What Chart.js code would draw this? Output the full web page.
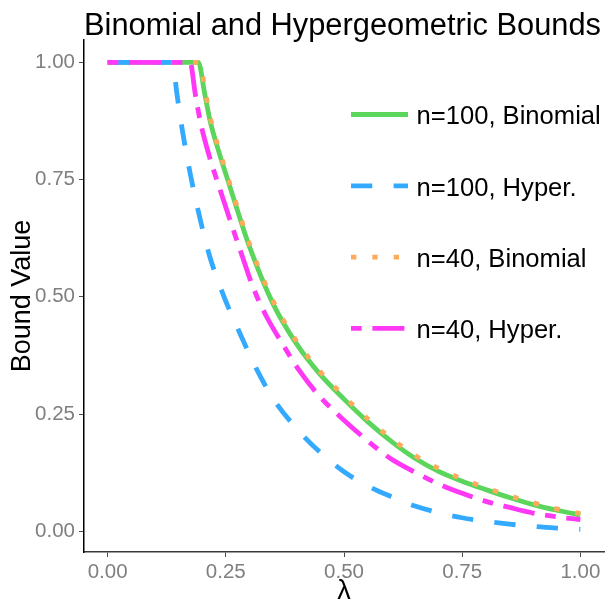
<!DOCTYPE html>
<html>
<head>
<meta charset="utf-8">
<title>Binomial and Hypergeometric Bounds</title>
<script src="https://cdn.jsdelivr.net/npm/chart.js@4.4.1/dist/chart.umd.min.js"></script>
<style>
  html, body { margin: 0; padding: 0; background: #ffffff; }
  #wrap { width: 606px; height: 600px; }
</style>
</head>
<body>
<div id="wrap"><canvas id="boundsChart" width="606" height="600"></canvas></div>
<script>
// Values
const xTickValues = [0, 0.25, 0.5, 0.75, 1];
const yTickValues = [0, 0.25, 0.5, 0.75, 1];

const seriesLabels = ['n=100, Binomial', 'n=100, Hyper.', 'n=40, Binomial', 'n=40, Hyper.'];

// n=100, Binomial
const lambdaBinom100 = [0, 0.192, 0.205, 0.217, 0.235, 0.25, 0.275, 0.3, 0.35, 0.4, 0.45, 0.5, 0.55, 0.6, 0.65, 0.7, 0.75, 0.8, 0.85, 0.9, 0.95, 1.0];
const boundBinom100  = [1, 1, 0.935, 0.874, 0.81, 0.762, 0.683, 0.607, 0.485, 0.399, 0.334, 0.282, 0.234, 0.192, 0.156, 0.128, 0.107, 0.089, 0.072, 0.057, 0.045, 0.035];

// n=100, Hyper.
const lambdaHyper100 = [0, 0.138, 0.146, 0.159, 0.175, 0.194, 0.216, 0.245, 0.283, 0.314, 0.35, 0.4, 0.45, 0.5, 0.55, 0.6, 0.65, 0.7, 0.75, 0.8, 0.85, 0.9, 0.95, 1.0];
const boundHyper100  = [1, 1, 0.937, 0.849, 0.761, 0.673, 0.586, 0.503, 0.415, 0.348, 0.283, 0.219, 0.168, 0.127, 0.097, 0.074, 0.054, 0.040, 0.029, 0.0215, 0.0155, 0.0105, 0.007, 0.0045];

// n=40, Binomial
const lambdaBinom40 = [0, 0.194, 0.207, 0.219, 0.235, 0.25, 0.275, 0.3, 0.35, 0.4, 0.45, 0.5, 0.55, 0.6, 0.65, 0.7, 0.75, 0.8, 0.85, 0.9, 0.95, 1.0];
const boundBinom40  = [1, 1, 0.935, 0.874, 0.816, 0.768, 0.689, 0.613, 0.491, 0.405, 0.340, 0.288, 0.240, 0.198, 0.162, 0.134, 0.112, 0.093, 0.076, 0.061, 0.048, 0.038];

// n=40, Hyper.
const lambdaHyper40 = [0, 0.1745, 0.185, 0.196, 0.215, 0.237, 0.26, 0.283, 0.307, 0.336, 0.371, 0.406, 0.45, 0.5, 0.55, 0.6, 0.65, 0.7, 0.75, 0.8, 0.85, 0.9, 0.95, 1.0];
const boundHyper40  = [1, 1, 0.935, 0.874, 0.80, 0.731, 0.660, 0.592, 0.522, 0.458, 0.398, 0.342, 0.286, 0.237, 0.193, 0.154, 0.126, 0.101, 0.081, 0.064, 0.051, 0.039, 0.031, 0.025];

const FONT = '"Liberation Sans", Arial, Helvetica, sans-serif';

function toPoints(xs, ys) {
  return xs.map((x, i) => ({ x: x, y: ys[i] }));
}

function makeLine(label, xs, ys, color, dash, order) {
  return {
    label: label,
    data: toPoints(xs, ys),
    borderColor: color,
    backgroundColor: color,
    borderWidth: 4.8,
    borderDash: dash,
    borderCapStyle: 'butt',
    borderJoinStyle: 'round',
    pointRadius: 0,
    pointHoverRadius: 0,
    fill: false,
    cubicInterpolationMode: 'monotone',
    order: order
  };
}

// Title and legend sit inside / above the panel like in the original plot
const plotText = {
  id: 'plotText',
  afterDraw(chart) {
    const ctx = chart.ctx;
    ctx.save();

    ctx.fillStyle = '#000000';
    ctx.font = '30.8px ' + FONT;
    ctx.textAlign = 'left';
    ctx.textBaseline = 'alphabetic';
    ctx.fillText('Binomial and Hypergeometric Bounds', 84, 34.5);

    chart.data.datasets.forEach((ds, i) => {
      const y = 114.5 + i * 71.3;
      ctx.beginPath();
      ctx.setLineDash(ds.borderDash || []);
      ctx.lineCap = 'butt';
      ctx.lineWidth = ds.borderWidth;
      ctx.strokeStyle = ds.borderColor;
      ctx.moveTo(351, y);
      ctx.lineTo(408, y);
      ctx.stroke();
      ctx.setLineDash([]);

      ctx.fillStyle = '#000000';
      ctx.font = '25.6px ' + FONT;
      ctx.fillText(ds.label, 416.5, y + 9.7);
    });

    ctx.restore();
  }
};

const chart = new Chart(document.getElementById('boundsChart'), {
  type: 'line',
  data: {
    datasets: [
      makeLine(seriesLabels[0], lambdaBinom100, boundBinom100, '#5BD55B', [], 3),
      makeLine(seriesLabels[1], lambdaHyper100, boundHyper100, '#33AAFF', [21.3, 21.3], 2),
      makeLine(seriesLabels[2], lambdaBinom40, boundBinom40, '#FFAA5A', [5.33, 16], 1),
      makeLine(seriesLabels[3], lambdaHyper40, boundHyper40, '#FF38F5', [10.7, 10.7, 32, 10.7], 0)
    ]
  },
  options: {
    responsive: false,
    animation: false,
    layout: { padding: { top: 40, right: 2, bottom: 0, left: 0 } },
    plugins: {
      legend: { display: false },
      title: { display: false },
      tooltip: { enabled: false }
    },
    scales: {
      x: {
        type: 'linear',
        min: -0.05,
        max: 1.05,
        afterBuildTicks: s => { s.ticks = xTickValues.map(v => ({ value: v })); },
        afterFit: s => { s.height = 48; },
        ticks: {
          callback: v => Number(v).toFixed(2),
          color: '#7f7f7f',
          font: { family: FONT, size: 20.5 },
          padding: 3,
          maxRotation: 0,
          autoSkip: false
        },
        grid: { drawOnChartArea: false, drawTicks: true, tickLength: 5, color: '#4d4d4d', lineWidth: 1 },
        border: { display: true, color: '#3a3a3a', width: 1.5 },
        title: {
          display: true,
          text: 'λ',
          color: '#000000',
          font: { family: FONT, size: 27, lineHeight: 0.62 },
          padding: 0
        }
      },
      y: {
        type: 'linear',
        min: -0.044,
        max: 1.0475,
        afterBuildTicks: s => { s.ticks = yTickValues.map(v => ({ value: v })); },
        afterFit: s => { s.width = 84; },
        ticks: {
          callback: v => Number(v).toFixed(2),
          color: '#7f7f7f',
          font: { family: FONT, size: 20.5 },
          padding: 4,
          autoSkip: false
        },
        grid: { drawOnChartArea: false, drawTicks: true, tickLength: 5, color: '#4d4d4d', lineWidth: 1 },
        border: { display: true, color: '#000000', width: 1.5 },
        title: {
          display: true,
          text: 'Bound Value',
          color: '#000000',
          font: { family: FONT, size: 27 },
          padding: { top: 6, bottom: 0 }
        }
      }
    }
  },
  plugins: [plotText]
});
</script>
</body>
</html>
